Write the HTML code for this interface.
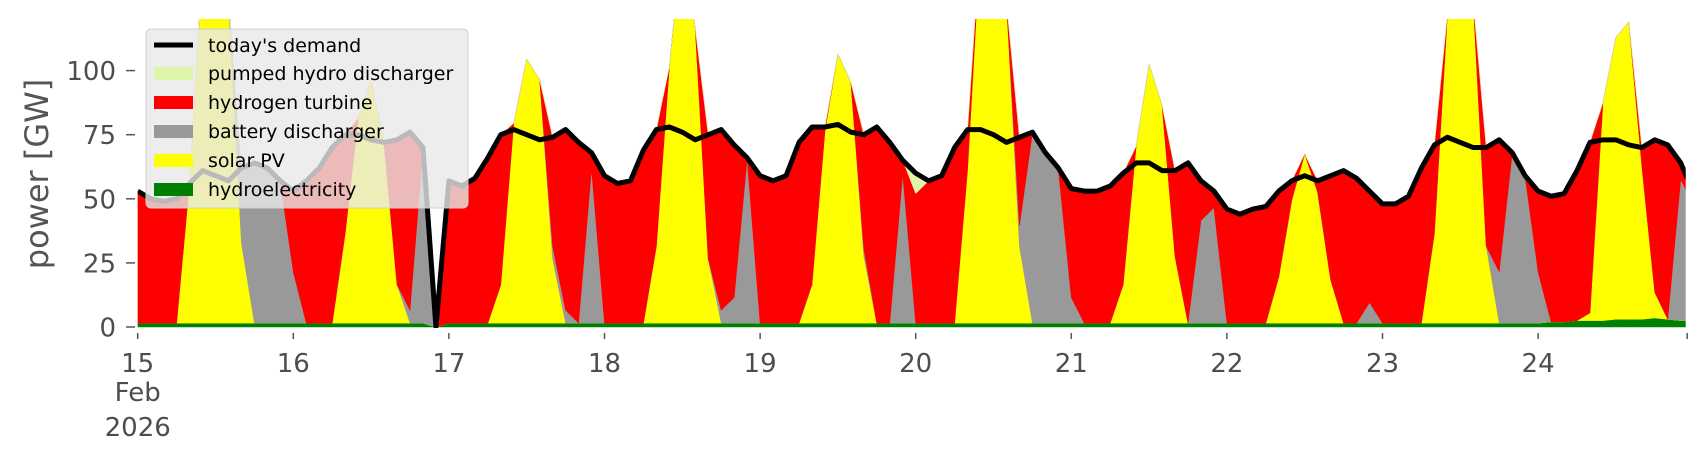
<!DOCTYPE html>
<html><head><meta charset="utf-8"><style>
html,body{margin:0;padding:0;background:#fff;}
svg{display:block;font-family:"DejaVu Sans","Liberation Sans",sans-serif;}
</style></head><body>
<svg id="chart" width="1706" height="460" viewBox="0 0 1706 460">
<defs><clipPath id="plotclip"><rect x="137.7" y="19" width="1548" height="309"/></clipPath></defs>
<g id="areas" clip-path="url(#plotclip)"></g>
<g id="axes"></g>
<text x="0" y="0" transform="translate(48,174) rotate(-90)" text-anchor="middle" font-size="32" fill="#555">power [GW]</text>
<g>
<rect x="146" y="29" width="322" height="179" rx="5" fill="rgba(232,232,232,0.8)" stroke="#cfcfcf"/>
<line x1="154" y1="45" x2="193" y2="45" stroke="#000" stroke-width="5"/>
<text x="208" y="52" font-size="19" fill="#000">today's demand</text>
<rect x="154" y="67" width="39" height="13" fill="#ddf5a8"/>
<text x="208" y="80" font-size="19" fill="#000">pumped hydro discharger</text>
<rect x="154" y="96" width="39" height="13" fill="#ff0000"/>
<text x="208" y="109" font-size="19" fill="#000">hydrogen turbine</text>
<rect x="154" y="125" width="39" height="13" fill="#999999"/>
<text x="208" y="138" font-size="19" fill="#000">battery discharger</text>
<rect x="154" y="154" width="39" height="13" fill="#ffff00"/>
<text x="208" y="167" font-size="19" fill="#000">solar PV</text>
<rect x="154" y="183" width="39" height="13" fill="#008000"/>
<text x="208" y="196" font-size="19" fill="#000">hydroelectricity</text>
</g>
</svg>
<script>
// 2-hourly data, Feb 15 00:00 .. Feb 24 22:00, plus Feb 24 23:00
const demand = [53,50,49,50,56,61,59,57,62,64,62,57, 53,57,62,70,75,75,73,72,73,76,70,0, 57,55,58,66,75,77,75,73,74,77,72,68, 59,56,57,69,77,78,76,73,75,77,71,66, 59,57,59,72,78,78,79,76,75,78,72,65, 60,57,59,70,77,77,75,72,74,76,68,62, 54,53,53,55,60,64,64,61,61,64,57,53, 46,44,46,47,53,57,59,57,59,61,58,53, 48,48,51,62,71,74,72,70,70,73,68,59, 53,51,52,61,72,73,73,71,70,73,71,64, 58];
const hydro = [1.5,1.5,1.5,1.5,1.5,1.5,1.5,1.5,1.5,1.5,1.5,1.5, 1.5,1.5,1.5,1.5,1.5,1.5,1.5,1.5,1.5,1.5,1.5,0, 1.5,1.5,1.5,1.5,1.5,1.5,1.5,1.5,1.5,1.5,1.5,1.5, 1.5,1.5,1.5,1.5,1.5,1.5,1.5,1.5,1.5,1.5,1.5,1.5, 1.5,1.5,1.5,1.5,1.5,1.5,1.5,1.5,1.5,1.5,1.5,1.5, 1.5,1.5,1.5,1.5,1.5,1.5,1.5,1.5,1.5,1.5,1.5,1.5, 1.5,1.5,1.5,1.5,1.5,1.5,1.5,1.5,1.5,1.5,1.5,1.5, 1.5,1.5,1.5,1.5,1.5,1.5,1.5,1.5,1.5,1.5,1.5,1.5, 1.5,1.5,1.5,1.5,1.5,1.5,1.5,1.5,1.5,1.5,1.5,1.5, 1.5,2,2,2.5,2.5,2.5,3,3,3,3.5,3,2.5, 2.5];
const solar = [0,0,0,0,55,140,160,125,31,0,0,0, 0,0,0,0,35,80,95,70,15,0,0,0, 0,0,0,0,15,78,103,95,25,0,0,0, 0,0,0,0,30,100,150,115,25,0,0,0, 0,0,0,0,15,75,105,94,26,0,0,0, 0,0,0,0,60,150,160,125,30,0,0,0, 0,0,0,0,15,69,101,85,26,0,0,0, 0,0,0,0,18,48,66,51,17,0,0,0, 0,0,0,0,35,120,160,125,30,0,0,0, 0,0,0,0,3,85,110,116,60,10,0,0, 0];
const battery = [0,0,0,0,0,0,0,0,30,62,60,55, 20,0,0,0,0,0,0,0,0,5,68,0, 0,0,0,0,0,0,0,0,5,5,0,60, 0,0,0,0,0,0,0,0,0,5,10,64, 0,0,0,0,0,0,0,0,3,0,0,58, 0,0,0,0,0,0,0,0,8,74,66,60, 10,0,0,0,0,0,0,0,0,0,40,45, 0,0,0,0,0,0,0,0,0,0,0,8, 0,0,0,0,0,0,0,0,0,20,66,57, 20,0,0,0,0,0,0,0,0,0,0,55, 50];
const hydrogen = [51.5,48.5,47.5,48.5,0,0,0,0,0,0,0,0, 31.5,55.5,60.5,68.5,38.5,0,0,0.5,56.5,69.5,0.5,0, 55.5,53.5,56.5,64.5,58.5,0,0,0,42.5,70.5,70.5,6.5, 57.5,54.5,55.5,67.5,45.5,0,0,0,48.5,70.5,59.5,0.5, 57.5,55.5,57.5,70.5,61.5,1.5,0,0,44.5,76.5,70.5,5.5, 50.5,55.5,57.5,68.5,15.5,0,0,0,34.5,0.5,0.5,0.5, 42.5,51.5,51.5,53.5,43.5,0,0,0,33.5,62.5,15.5,6.5, 44.5,42.5,44.5,45.5,33.5,7.5,0,4.5,40.5,59.5,56.5,43.5, 46.5,46.5,49.5,60.5,34.5,0,0,0,38.5,51.5,0.5,0.5, 31.5,49,50,58.5,66.5,0,0,0,7,59.5,68,6.5, 5.5];
const pumped = [0,0,0,0,0,0,0,0,0,0,0,0, 0,0,0,0,0,0,0,0,0,0,0,0, 0,0,0,0,0,0,0,0,0,0,0,0, 0,0,0,0,0,0,0,0,0,0,0,0, 0,0,0,0,0,0,0,0,0,0,0,0, 8,0,0,0,0,0,0,0,0,0,0,0, 0,0,0,0,0,0,0,0,0,0,0,0, 0,0,0,0,0,0,0,0,0,0,0,0, 0,0,0,0,0,0,0,0,0,0,0,0, 0,0,0,0,0,0,0,0,0,0,0,0, 0];
const yTicks = [0,25,50,75,100];
const xTickDays = [0,1,2,3,4,5,6,7,8,9];
const xTickLabels = ["15","16","17","18","19","20","21","22","23","24"];

const NS = "http://www.w3.org/2000/svg";
const X0 = 137.7, DAYW = 155.6, Y0 = 327, PXGW = 2.564;
function xScale(hours){ return X0 + hours/24*DAYW; }
function yScale(v){ return Y0 - v*PXGW; }
const hours = demand.map((_, i) => i < 120 ? i*2 : 239);

const areas = document.getElementById('areas');
const layers = [
  {arr: hydro, color: '#008000', name: 'hydroelectricity-area'},
  {arr: solar, color: '#ffff00', name: 'solar-pv-area'},
  {arr: battery, color: '#999999', name: 'battery-discharger-area'},
  {arr: hydrogen, color: '#ff0000', name: 'hydrogen-turbine-area'},
  {arr: pumped, color: '#ddf5a8', name: 'pumped-hydro-area'}
];
let base = hours.map(() => 0);
layers.forEach(L => {
  const top = base.map((b, i) => b + L.arr[i]);
  let d = '';
  hours.forEach((h, i) => { d += (i ? 'L' : 'M') + xScale(h).toFixed(2) + ',' + yScale(top[i]).toFixed(2); });
  for (let i = hours.length - 1; i >= 0; i--) d += 'L' + xScale(hours[i]).toFixed(2) + ',' + yScale(base[i]).toFixed(2);
  d += 'Z';
  const p = document.createElementNS(NS, 'path');
  p.setAttribute('d', d);
  p.setAttribute('fill', L.color);
  p.setAttribute('stroke', L.color);
  p.setAttribute('stroke-width', '0.5');
  
  
  areas.appendChild(p);
  base = top;
});
let dl = '';
hours.forEach((h, i) => { dl += (i ? 'L' : 'M') + xScale(h).toFixed(2) + ',' + yScale(demand[i]).toFixed(2); });
const line = document.createElementNS(NS, 'path');
line.setAttribute('d', dl);
line.setAttribute('fill', 'none');
line.setAttribute('stroke', '#000');
line.setAttribute('stroke-width', '5');
line.setAttribute('stroke-linejoin', 'round');


areas.appendChild(line);

const axes = document.getElementById('axes');
yTicks.forEach(v => {
  const y = yScale(v);
  const t = document.createElementNS(NS, 'line');
  t.setAttribute('x1', 126); t.setAttribute('x2', 135);
  t.setAttribute('y1', y); t.setAttribute('y2', y);
  t.setAttribute('stroke', '#555'); t.setAttribute('stroke-width', '1.5');
  
  
  axes.appendChild(t);
  const lb = document.createElementNS(NS, 'text');
  lb.setAttribute('x', 116); lb.setAttribute('y', y + 9.5);
  lb.setAttribute('text-anchor', 'end'); lb.setAttribute('font-size', '26'); lb.setAttribute('fill', '#4d4d4d');
  lb.textContent = v;
  
  
  axes.appendChild(lb);
});
xTickDays.concat([9.958]).forEach((d, i) => {
  const x = xScale(d*24);
  const t = document.createElementNS(NS, 'line');
  t.setAttribute('x1', x); t.setAttribute('x2', x);
  t.setAttribute('y1', 333); t.setAttribute('y2', 339);
  t.setAttribute('stroke', '#555'); t.setAttribute('stroke-width', '1.5');
  
  
  axes.appendChild(t);
  if (i < xTickLabels.length) {
    const lb = document.createElementNS(NS, 'text');
    lb.setAttribute('x', x); lb.setAttribute('y', 372);
    lb.setAttribute('text-anchor', 'middle'); lb.setAttribute('font-size', '26'); lb.setAttribute('fill', '#4d4d4d');
    lb.textContent = xTickLabels[i];
    
    
    axes.appendChild(lb);
  }
});
['Feb', '2026'].forEach((s, j) => {
  const lb = document.createElementNS(NS, 'text');
  lb.setAttribute('x', xScale(0)); lb.setAttribute('y', 401 + j*35);
  lb.setAttribute('text-anchor', 'middle'); lb.setAttribute('font-size', '26'); lb.setAttribute('fill', '#4d4d4d');
  lb.textContent = s;
  
  
  axes.appendChild(lb);
});
</script>
</body></html>
